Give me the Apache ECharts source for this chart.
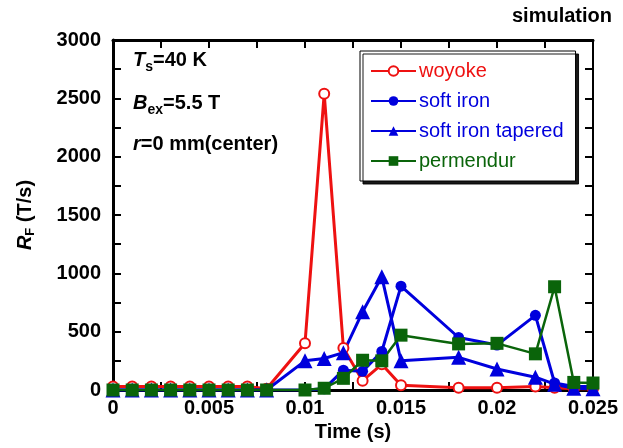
<!DOCTYPE html>
<html>
<head>
<meta charset="utf-8">
<script src="https://cdn.jsdelivr.net/npm/echarts@6/dist/echarts.min.js"></script>
<style>
  html, body { margin: 0; padding: 0; background: #fff; }
  #chart { width: 623px; height: 448px; }
</style>
</head>
<body>
<div id="chart"></div>
<script>
// time points (s)
const times = [0, 0.001, 0.002, 0.003, 0.004, 0.005, 0.006, 0.007, 0.008, 0.01, 0.011,
               0.012, 0.013, 0.014, 0.015, 0.018, 0.02, 0.022, 0.023, 0.024, 0.025];
// R_F values (T/s)
const woyoke    = [30, 30, 30, 30, 30, 30, 30, 30, 10, 400, 2540, 360, 80, 220, 40, 20, 20, 30, 20, 10, 10];
const softIron  = [0, 0, 0, 0, 0, 0, 0, 0, 0, 0, 10, 170, 160, 330, 890, 450, 385, 640, 60, 30, 30];
const tapered   = [0, 0, 0, 0, 0, 0, 0, 0, 0, 250, 270, 320, 670, 970, 250, 280, 180, 110, 50, 15, 10];
const permendur = [0, 0, 0, 0, 0, 0, 0, 0, 0, 0, 15, 100, 255, 250, 470, 395, 400, 310, 885, 65, 60];

const RED = '#ee1111';
const BLUE = '#0000dd';
const GREEN = '#0a640a';
const FONT = 'Liberation Sans, Arial, sans-serif';

const pairs = (vals) => times.map((t, i) => [t, vals[i]]);

const chart = echarts.init(document.getElementById('chart'));

function axisStyle(lineWidth) {
    return {
        axisLine: { show: true, onZero: false, lineStyle: { color: '#000', width: lineWidth } },
        axisTick: { show: true, inside: true, length: 8, lineStyle: { color: '#000', width: 2 } },
        minorTick: { show: true, splitNumber: 2, length: 8, lineStyle: { color: '#000', width: 2 } },
        splitLine: { show: false },
    };
}

chart.setOption({
    animation: false,
    backgroundColor: '#fff',
    grid: { left: 113, right: 30, top: 40, bottom: 58 },
    xAxis: [
        Object.assign({
            type: 'value', min: 0, max: 0.025, interval: 0.005,
            name: 'Time (s)', nameLocation: 'middle', nameGap: 32,
            nameTextStyle: { fontFamily: FONT, fontSize: 20, fontWeight: 'bold', color: '#000' },
            axisLabel: { fontFamily: FONT, fontSize: 20, fontWeight: 'bold', color: '#000', margin: 8,
                         formatter: (v) => String(+v.toFixed(3)) },
        }, axisStyle(3)),
        Object.assign({
            type: 'value', min: 0, max: 0.025, interval: 0.005, position: 'top',
            axisLabel: { show: false },
        }, axisStyle(3)),
    ],
    yAxis: [
        Object.assign({
            type: 'value', min: 0, max: 3000, interval: 500,
            name: '{i|R}{sub|F}{n| (T/s)}', nameLocation: 'middle', nameGap: 76, nameRotate: 90,
            nameTextStyle: {
                rich: {
                    i: { fontFamily: FONT, fontSize: 20, fontWeight: 'bold', fontStyle: 'italic', color: '#000' },
                    sub: { fontFamily: FONT, fontSize: 13, fontWeight: 'bold', color: '#000', verticalAlign: 'bottom', padding: [10, 0, 0, 0] },
                    n: { fontFamily: FONT, fontSize: 20, fontWeight: 'bold', color: '#000' },
                },
            },
            axisLabel: { fontFamily: FONT, fontSize: 20, fontWeight: 'bold', color: '#000', margin: 12,
                         formatter: (v) => String(v) },
        }, axisStyle(3)),
        Object.assign({
            type: 'value', min: 0, max: 3000, interval: 500, position: 'right',
            axisLabel: { show: false },
        }, axisStyle(2)),
    ],
    legend: {
        orient: 'vertical',
        left: 360, top: 51,
        padding: [10, 12, 10, 10],
        itemWidth: 45, itemHeight: 12, itemGap: 10,
        backgroundColor: '#fff',
        borderColor: '#000', borderWidth: 1, borderRadius: 0,
        shadowColor: 'rgba(0,0,0,0.9)', shadowOffsetX: 3, shadowOffsetY: 3, shadowBlur: 0,
        textStyle: { fontFamily: FONT, fontSize: 20, padding: [0, 0, 0, -2] },
        data: [
            { name: 'woyoke', textStyle: { color: RED } },
            { name: 'soft iron', textStyle: { color: BLUE } },
            { name: 'soft iron tapered', textStyle: { color: BLUE } },
            { name: 'permendur', textStyle: { color: GREEN } },
        ],
    },
    graphic: [
        {
            type: 'text', right: 11, top: 6,
            style: { text: 'simulation', font: 'bold 20px ' + FONT, fill: '#000' },
        },
        {
            type: 'text', left: 133, top: 50,
            style: {
                text: '{i|T}{sub|s}{n|=40 K}',
                rich: {
                    i: { font: 'bold italic 20px ' + FONT, fill: '#000' },
                    sub: { font: 'bold 14px ' + FONT, fill: '#000', verticalAlign: 'bottom', padding: [14, 0, 0, 0] },
                    n: { font: 'bold 20px ' + FONT, fill: '#000' },
                },
            },
        },
        {
            type: 'text', left: 133, top: 93,
            style: {
                text: '{i|B}{sub|ex}{n|=5.5 T}',
                rich: {
                    i: { font: 'bold italic 20px ' + FONT, fill: '#000' },
                    sub: { font: 'bold 14px ' + FONT, fill: '#000', verticalAlign: 'bottom', padding: [14, 0, 0, 0] },
                    n: { font: 'bold 20px ' + FONT, fill: '#000' },
                },
            },
        },
        {
            type: 'text', left: 133, top: 134,
            style: {
                text: '{i|r}{n|=0 mm(center)}',
                rich: {
                    i: { font: 'bold italic 20px ' + FONT, fill: '#000' },
                    n: { font: 'bold 20px ' + FONT, fill: '#000' },
                },
            },
        },
    ],
    series: [
        {
            name: 'woyoke', type: 'line', data: pairs(woyoke),
            symbol: 'emptyCircle', symbolSize: 10,
            lineStyle: { color: RED, width: 3 },
            itemStyle: { color: RED, borderColor: RED, borderWidth: 1 },
        },
        {
            name: 'soft iron', type: 'line', data: pairs(softIron),
            symbol: 'circle', symbolSize: 11,
            lineStyle: { color: BLUE, width: 3 },
            itemStyle: { color: BLUE },
        },
        {
            name: 'soft iron tapered', type: 'line', data: pairs(tapered),
            symbol: 'triangle', symbolSize: 15,
            lineStyle: { color: BLUE, width: 3 },
            itemStyle: { color: BLUE },
        },
        {
            name: 'permendur', type: 'line', data: pairs(permendur),
            symbol: 'rect', symbolSize: 13,
            lineStyle: { color: GREEN, width: 2.5 },
            itemStyle: { color: GREEN },
        },
    ],
});
</script>
</body>
</html>
